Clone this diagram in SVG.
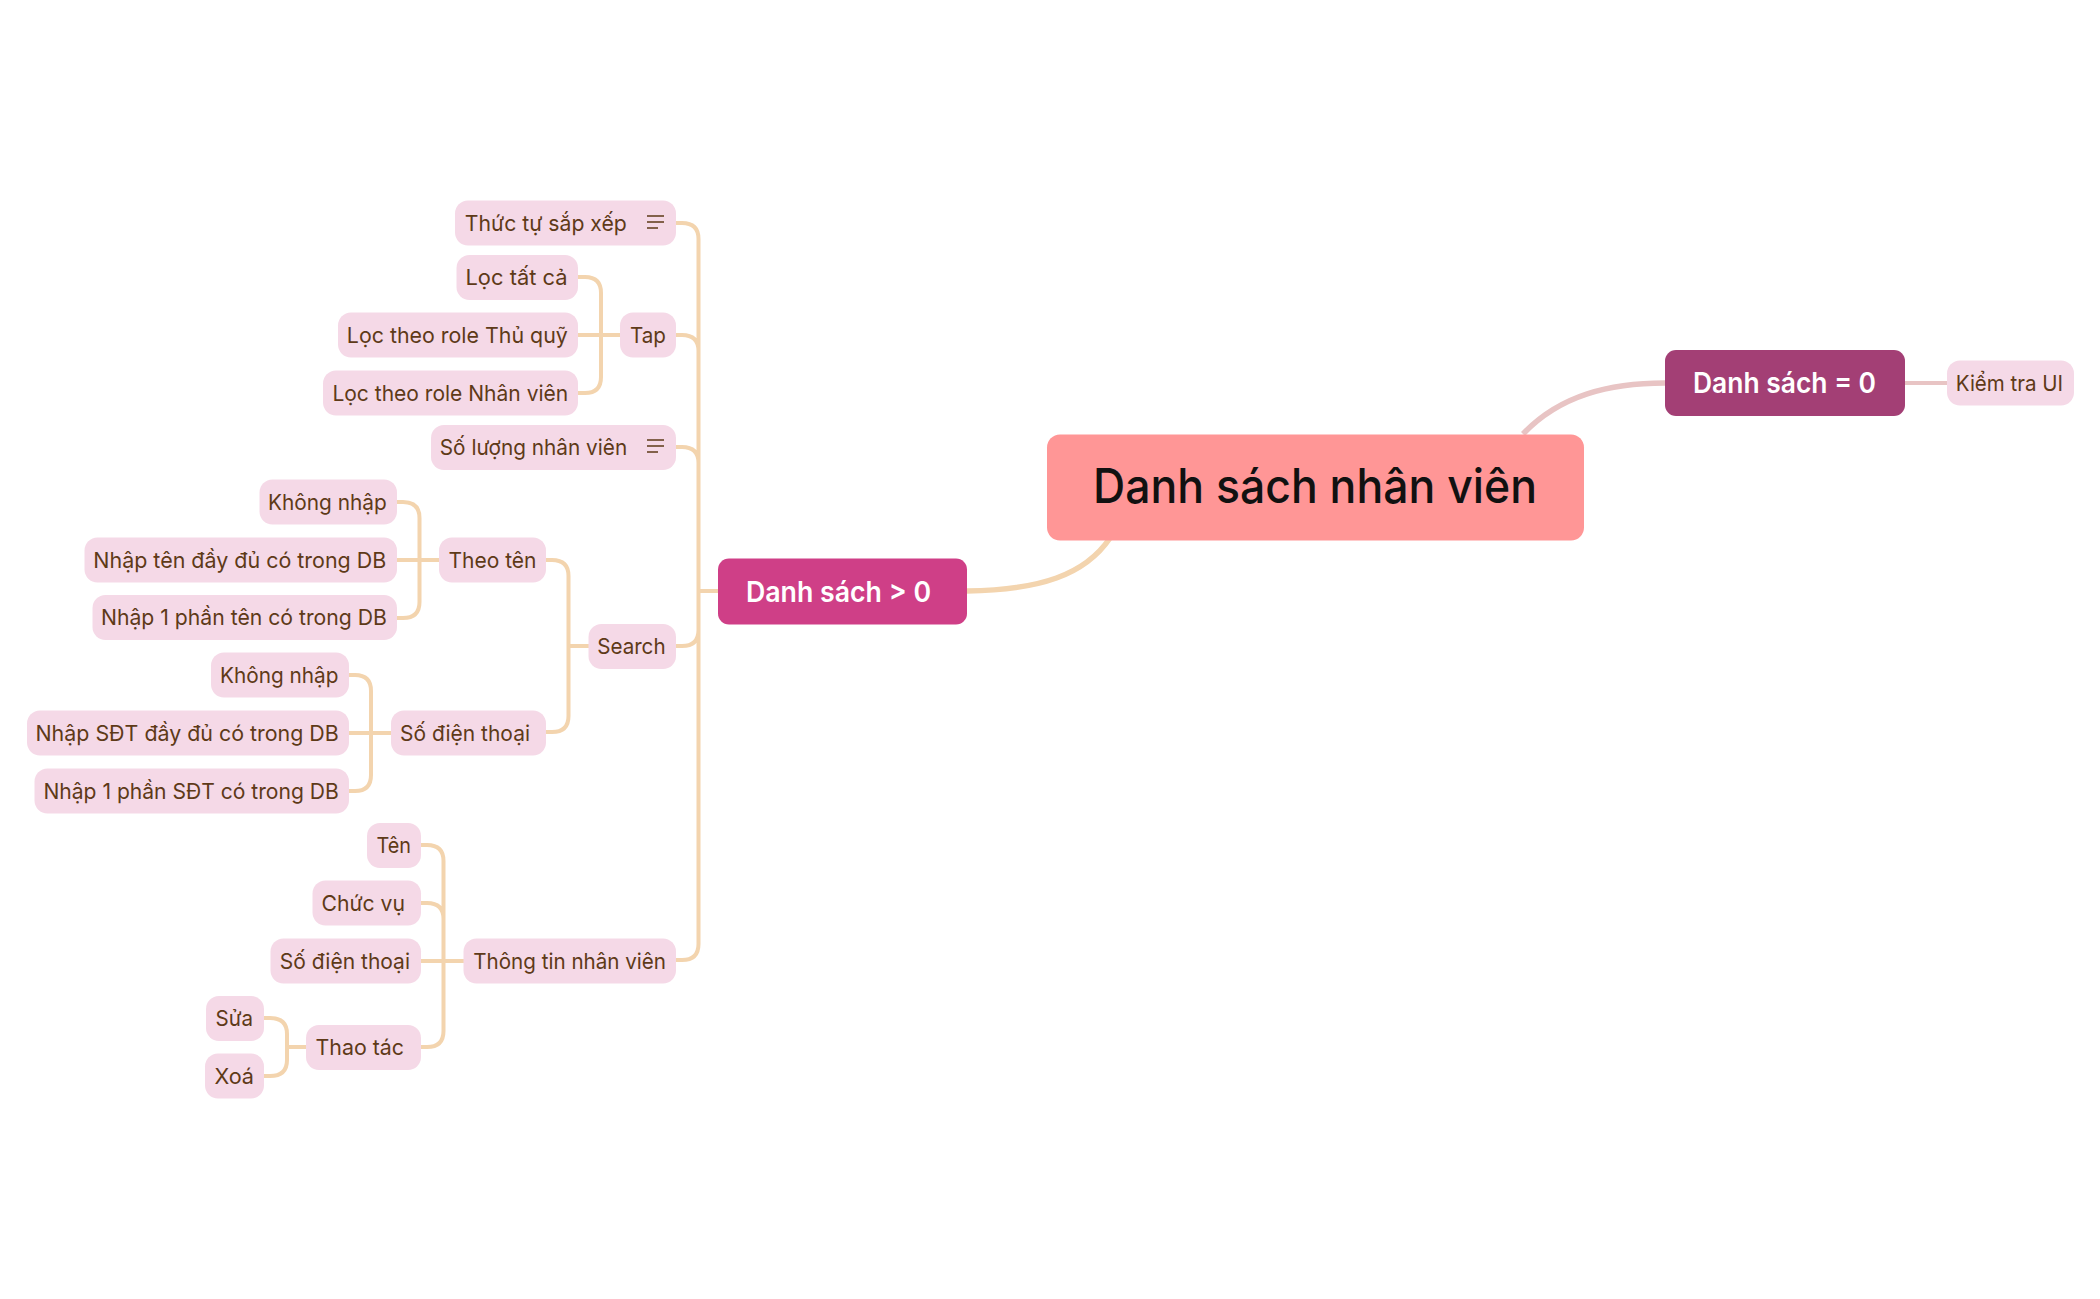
<svg xmlns="http://www.w3.org/2000/svg" width="2100" height="1299" viewBox="0 0 2100 1299">
<style>
text{font-family:"Inter","Noto Sans","Liberation Sans",sans-serif}
.c{fill:#f5d9e7}
.t{font-size:22px;fill:#5e3a18}
.l{fill:none;stroke:#f3d4ae;stroke-width:4}
.m{fill:none;stroke:#f3d4ae;stroke-width:5.500}
.r{fill:none;stroke:#e8c4c4;stroke-width:4}
.b{font-size:28px;font-weight:600;fill:#fff}
.i{stroke:#5e3a18;stroke-width:1.400}
</style>
<rect width="2100" height="1299" fill="#fff"/>
<g id="connectors">
<path class="m" d="M967 591C1040 590 1085 575 1110 538"/>
<path class="m" d="M1523 434C1560 395 1610 383 1665 383" style="stroke:#e8c4c4"/>
<path class="r" d="M1905 383H1948"/>
<path class="l" d="M675 223H682Q698.500 223 698.500 239V944Q698.500 960 682 960H675M675 335H682Q698.500 335 698.500 351M675 447H682Q698.500 447 698.500 463M675 646H682Q698.500 646 698.500 630M698.500 591H718"/>
<path class="l" d="M577 277H585Q601 277 601 293V377Q601 393 585 393H577M577 335H620"/>
<path class="l" d="M396 502H403Q419.500 502 419.500 518V602Q419.500 618 403 618H396M396 560H439"/>
<path class="l" d="M545 560H552Q568.500 560 568.500 576V716Q568.500 732 552 732H545M568.500 646H589"/>
<path class="l" d="M348 675H355Q371 675 371 691V775Q371 791 355 791H348M348 733H391"/>
<path class="l" d="M420 845H427Q443.500 845 443.500 861V1031Q443.500 1047 427 1047H420M420 903H427Q443.500 903 443.500 919M420 961H464"/>
<path class="l" d="M263 1018H270Q287 1018 287 1034V1060Q287 1076 270 1076H263M287 1047H306"/>
</g>
<g id="n0"><rect x="1047" y="434.500" width="537" height="106" rx="13" fill="#ff9696"/><text x="1093" y="503" textLength="444" lengthAdjust="spacingAndGlyphs" font-size="48" font-weight="500" fill="#111">Danh sách nhân viên</text></g>
<g id="n1"><rect x="718" y="558.500" width="249" height="66" rx="11" fill="#cf3f87"/><text class="b" x="746" y="602" textLength="185" lengthAdjust="spacingAndGlyphs">Danh sách &gt; 0</text></g>
<g id="n2"><rect x="1665" y="350" width="240" height="66" rx="11" fill="#a33f75"/><text class="b" x="1693" y="393" textLength="183" lengthAdjust="spacingAndGlyphs">Danh sách = 0</text></g>
<g id="n3"><rect class="c" x="1947" y="360.500" width="127" height="45" rx="13"/><text class="t" x="1955.800" y="391" textLength="107.200" lengthAdjust="spacingAndGlyphs">Kiểm tra UI</text></g>
<g id="n4"><rect class="c" x="455" y="200.500" width="221" height="45" rx="13"/><text class="t" x="464.800" y="231" textLength="162" lengthAdjust="spacingAndGlyphs">Thức tự sắp xếp</text><path class="i" d="M647 216H664M647 222H664M647 228H658"/></g>
<g id="n5"><rect class="c" x="456.500" y="255" width="121.500" height="45" rx="13"/><text class="t" x="465.500" y="285" textLength="102" lengthAdjust="spacingAndGlyphs">Lọc tất cả</text></g>
<g id="n6"><rect class="c" x="338" y="312.500" width="240" height="45" rx="13"/><text class="t" x="346.800" y="343" textLength="221" lengthAdjust="spacingAndGlyphs">Lọc theo role Thủ quỹ</text></g>
<g id="n7"><rect class="c" x="323" y="370.500" width="255" height="45" rx="13"/><text class="t" x="332.400" y="401" textLength="235.800" lengthAdjust="spacingAndGlyphs">Lọc theo role Nhân viên</text></g>
<g id="n8"><rect class="c" x="620" y="312.500" width="56" height="45" rx="13"/><text class="t" x="630" y="343" textLength="36" lengthAdjust="spacingAndGlyphs">Tap</text></g>
<g id="n9"><rect class="c" x="431" y="425" width="245" height="45" rx="13"/><text class="t" x="439.800" y="455" textLength="187.400" lengthAdjust="spacingAndGlyphs">Số lượng nhân viên</text><path class="i" d="M647 440H664M647 446H664M647 452H658"/></g>
<g id="n10"><rect class="c" x="259.500" y="479.500" width="137.500" height="45" rx="13"/><text class="t" x="268" y="510" textLength="118.800" lengthAdjust="spacingAndGlyphs">Không nhập</text></g>
<g id="n11"><rect class="c" x="84.500" y="537.500" width="312.500" height="45" rx="13"/><text class="t" x="93.300" y="568" textLength="293" lengthAdjust="spacingAndGlyphs">Nhập tên đầy đủ có trong DB</text></g>
<g id="n12"><rect class="c" x="92.500" y="595" width="304.500" height="45" rx="13"/><text class="t" x="101" y="625" textLength="285.800" lengthAdjust="spacingAndGlyphs">Nhập 1 phần tên có trong DB</text></g>
<g id="n13"><rect class="c" x="439" y="537.500" width="107" height="45" rx="13"/><text class="t" x="448.500" y="568" textLength="88" lengthAdjust="spacingAndGlyphs">Theo tên</text></g>
<g id="n14"><rect class="c" x="211" y="652.500" width="138" height="45" rx="13"/><text class="t" x="220" y="683" textLength="118.500" lengthAdjust="spacingAndGlyphs">Không nhập</text></g>
<g id="n15"><rect class="c" x="27" y="710.500" width="322" height="45" rx="13"/><text class="t" x="35.500" y="741" textLength="303.300" lengthAdjust="spacingAndGlyphs">Nhập SĐT đầy đủ có trong DB</text></g>
<g id="n16"><rect class="c" x="34.500" y="768.500" width="314.500" height="45" rx="13"/><text class="t" x="43.400" y="799" textLength="295.400" lengthAdjust="spacingAndGlyphs">Nhập 1 phần SĐT có trong DB</text></g>
<g id="n17"><rect class="c" x="391" y="710.500" width="155" height="45" rx="13"/><text class="t" x="400" y="741" textLength="130" lengthAdjust="spacingAndGlyphs">Số điện thoại</text></g>
<g id="n18"><rect class="c" x="588.500" y="624" width="87.500" height="45" rx="13"/><text class="t" x="597.200" y="654" textLength="68.400" lengthAdjust="spacingAndGlyphs">Search</text></g>
<g id="n19"><rect class="c" x="367" y="823" width="54" height="45" rx="13"/><text class="t" x="376.500" y="853" textLength="34.500" lengthAdjust="spacingAndGlyphs">Tên</text></g>
<g id="n20"><rect class="c" x="312.500" y="880.500" width="108.500" height="45" rx="13"/><text class="t" x="321.500" y="911" textLength="83.500" lengthAdjust="spacingAndGlyphs">Chức vụ</text></g>
<g id="n21"><rect class="c" x="270.500" y="938.500" width="150.500" height="45" rx="13"/><text class="t" x="279.800" y="969" textLength="130.200" lengthAdjust="spacingAndGlyphs">Số điện thoại</text></g>
<g id="n22"><rect class="c" x="463.500" y="938.500" width="212.500" height="45" rx="13"/><text class="t" x="473.300" y="969" textLength="192.700" lengthAdjust="spacingAndGlyphs">Thông tin nhân viên</text></g>
<g id="n23"><rect class="c" x="306" y="1025" width="115" height="45" rx="13"/><text class="t" x="315.500" y="1055" textLength="88.500" lengthAdjust="spacingAndGlyphs">Thao tác</text></g>
<g id="n24"><rect class="c" x="206" y="996" width="58" height="45" rx="13"/><text class="t" x="215.500" y="1026" textLength="37.500" lengthAdjust="spacingAndGlyphs">Sửa</text></g>
<g id="n25"><rect class="c" x="205" y="1053.500" width="59" height="45" rx="13"/><text class="t" x="214.500" y="1084" textLength="39.500" lengthAdjust="spacingAndGlyphs">Xoá</text></g>
</svg>
